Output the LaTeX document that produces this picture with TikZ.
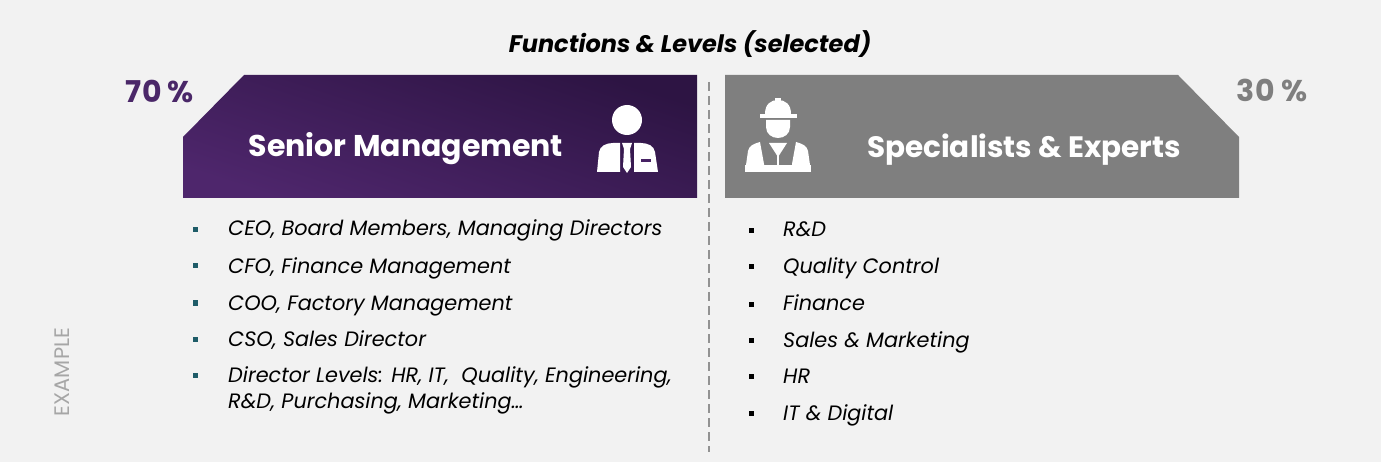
\documentclass[tikz,border=0pt]{standalone}
\usepackage{fontspec}
\setmainfont{Poppins}
\usetikzlibrary{positioning}
\definecolor{panelgray}{HTML}{F2F2F2}
\definecolor{purpledark}{HTML}{2D1443}
\definecolor{purplelight}{HTML}{4E266C}
\definecolor{purpletext}{HTML}{4A2768}
\definecolor{boxgray}{HTML}{7F7F7F}
\definecolor{bulletteal}{HTML}{1E5C68}
\definecolor{examplegray}{HTML}{A6A6A6}

\begin{document}
\begin{tikzpicture}[x=1pt, y=-1pt,
		header/.style={anchor=base, text=white, inner sep=0pt, font=\bfseries\fontsize{30}{30}\selectfont},
		percent/.style={anchor=base, inner sep=0pt, font=\bfseries\fontsize{30}{30}\selectfont},
		item/.style={anchor=base west, inner sep=0pt, align=left, font=\itshape\fontsize{20.8}{26}\selectfont},
		bulletbox/.style={fill=#1, minimum size=5pt, inner sep=0pt},
		divider/.style={line width=2pt, color=boxgray!85, dash pattern=on 9pt off 5pt}]
		%%%%% START %%%%%
		
		\useasboundingbox (0, 0) rectangle (1381, 462);
		\fill[panelgray] (0, 0) rectangle (1381, 462);
		
		\node[anchor=base, inner sep=0pt, font=\bfseries\itshape\fontsize{24}{24}\selectfont] (title) at (690, 53) {Functions \& Levels (selected)};
		
		% left box
		\shade[top color=purpledark, bottom color=purplelight, shading angle=-18] (244, 75) -- (697, 75) -- (697, 198) -- (183, 198) -- (183, 137) -- cycle;
		\node[percent, text=purpletext] (leftpct) at (160, 103) {70 \%};
		\node[header] (senior) at (406, 157) {Senior Management};
		
		% manager icon
		\fill[white] (627, 120) circle (15);
		\fill[white] (597, 172) -- (599, 152) .. controls (600, 146) and (606, 143) .. (613, 143) -- (620, 143) -- (620, 172) -- cycle;
		\fill[white] (622, 143) -- (632, 143) -- (630, 149) -- (631, 167) -- (627, 173) -- (623, 167) -- (624, 149) -- cycle;
		\fill[white] (634, 143) -- (641, 143) .. controls (648, 143) and (654, 146) .. (655, 152) -- (658, 172) -- (634, 172) -- cycle;
		\fill[purplelight!80!purpledark] (641, 159) rectangle (651, 162);
		
		% right box
		\fill[boxgray] (725, 75) -- (1178, 75) -- (1239, 137) -- (1239, 198) -- (725, 198) -- cycle;
		\node[percent, text=boxgray] (rightpct) at (1272, 102) {30 \%};
		\node[header, font=\bfseries\fontsize{29.5}{30}\selectfont] (special) at (1024, 158) {Specialists \& Experts};
		
		% worker icon
		\fill[white] (765, 114) .. controls (765, 104) and (771, 100) .. (778, 100) .. controls (785, 100) and (791, 104) .. (791, 114) -- cycle;
		\fill[white] (775, 98) rectangle (781, 106);
		\fill[white] (760, 114) rectangle (797, 118);
		\fill[white] (766, 120) -- (766, 127) .. controls (766, 134) and (772, 138) .. (778, 138) .. controls (784, 138) and (790, 134) .. (790, 127) -- (790, 120) -- cycle;
		\fill[white] (745, 172) -- (748, 151) .. controls (749, 146) and (753, 144) .. (760, 142) -- (764, 164) -- (764, 172) -- cycle;
		\fill[white] (811, 172) -- (808, 151) .. controls (807, 146) and (803, 144) .. (796, 142) -- (792, 164) -- (792, 172) -- cycle;
		\fill[white] (769, 143) -- (787, 143) -- (778, 157) -- cycle;
		\fill[white] (777, 156) rectangle (779, 166);
		\fill[white] (745, 165) rectangle (811, 172);
		
		% divider
		\coordinate (divtop) at (709, 82);
		\coordinate (divbot) at (709, 452);
		\draw[divider] (divtop) -- (divbot);
		
		% left list
		\node[bulletbox=bulletteal] (bl1) at (195, 230) {};
		\node[item] (il1) at (228, 236) {CEO, Board Members, Managing Directors};
		\node[bulletbox=bulletteal] (bl2) at (195, 266) {};
		\node[item] (il2) at (228, 273) {CFO, Finance Management};
		\node[bulletbox=bulletteal] (bl3) at (195, 303) {};
		\node[item] (il3) at (228, 310) {COO, Factory Management};
		\node[bulletbox=bulletteal] (bl4) at (195, 339) {};
		\node[item] (il4) at (228, 346) {CSO, Sales Director};
		\node[bulletbox=bulletteal] (bl5) at (195, 375) {};
		\node[item] (il5) at (228, 408) {Director Levels: HR, IT,~ Quality, Engineering,\\R\&D, Purchasing, Marketing\dots};
		
		% right list
		\node[bulletbox=black] (br1) at (751, 231) {};
		\node[item] (ir1) at (783, 237) {R\&D};
		\node[bulletbox=black] (br2) at (751, 267) {};
		\node[item] (ir2) at (783, 274) {Quality Control};
		\node[bulletbox=black] (br3) at (751, 304) {};
		\node[item] (ir3) at (783, 310) {Finance};
		\node[bulletbox=black] (br4) at (751, 340) {};
		\node[item] (ir4) at (783, 347) {Sales \& Marketing};
		\node[bulletbox=black] (br5) at (751, 376) {};
		\node[item] (ir5) at (783, 383) {HR};
		\node[bulletbox=black] (br6) at (751, 413) {};
		\node[item] (ir6) at (783, 420) {IT \& Digital};
		
		\node[rotate=90, text=examplegray, inner sep=0pt, font=\fontsize{21}{21}\selectfont] (example) at (62, 372) {EXAMPLE};
		
		%%%%% END %%%%%
	\end{tikzpicture}
\end{document}
